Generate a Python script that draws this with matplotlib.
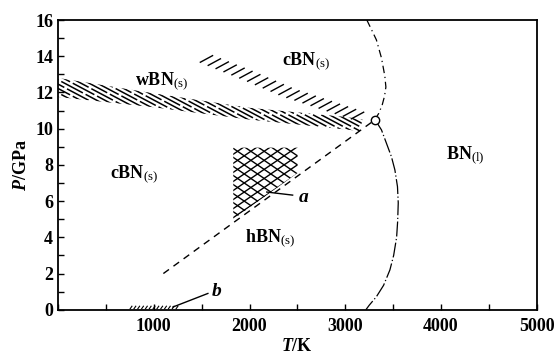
import matplotlib
matplotlib.use("Agg")
import matplotlib.pyplot as plt
import numpy as np
from matplotlib.patches import Polygon
from matplotlib.collections import LineCollection
from matplotlib.ticker import MultipleLocator, FuncFormatter

plt.rcParams['font.family'] = ['Liberation Serif', 'DejaVu Serif']
plt.rcParams['mathtext.fontset'] = 'custom'
plt.rcParams['mathtext.rm'] = 'Liberation Serif'
plt.rcParams['mathtext.it'] = 'Liberation Serif:italic:bold'
plt.rcParams['mathtext.bf'] = 'Liberation Serif:bold'

# wBN / cBN hatched band (upper and lower edges)
band_up_T = [0, 1000, 2000, 3000, 3180]
band_up_P = [12.8, 11.95, 11.15, 10.65, 10.5]
band_lo_T = [0, 1000, 2000, 3050, 3150]
band_lo_P = [11.75, 11.18, 10.5, 9.93, 9.85]

# second (single-stroke) hatched band
ridge_T = [1550, 2000, 2400, 2800, 3200]
ridge_P = [13.85, 12.9, 12.0, 11.3, 10.6]

# hBN / cBN equilibrium line
hbn_T = [1100, 3300]
hbn_P = [2.0, 10.45]

# melting curves
melt_up_T = [3225, 3280, 3325, 3378, 3413, 3424, 3410, 3385, 3350, 3310]
melt_up_P = [16.0, 15.4, 14.9, 13.9, 12.9, 12.3, 11.8, 11.3, 10.85, 10.5]
melt_lo_T = [3310, 3378, 3430, 3482, 3518, 3545, 3553, 3547, 3536, 3505,
             3466, 3400, 3325, 3250, 3215]
melt_lo_P = [10.5, 9.93, 9.19, 8.45, 7.72, 6.8, 5.9, 4.9, 4.0, 3.0,
             2.2, 1.35, 0.72, 0.25, 0.0]

# triple point
triple_T, triple_P = 3310, 10.5

# region a (cross-hatched)
a_T = [1830, 2500, 2500, 1830]
a_P = [8.95, 8.95, 7.55, 5.0]
a_lead_T, a_lead_P = [2180, 2450], [6.5, 6.33]

# region b
b_T = np.arange(750, 1260, 40)
b_lead_T, b_lead_P = [1200, 1565], [0.15, 0.9]

labels = [
    (800, 12.6, 'wBN$_\\mathrm{(s)}$'),
    (2340, 13.7, 'cBN$_\\mathrm{(s)}$'),
    (545, 7.5, 'cBN$_\\mathrm{(s)}$'),
    (1950, 3.95, 'hBN$_\\mathrm{(s)}$'),
    (4050, 8.55, 'BN$_\\mathrm{(l)}$'),
]

fig = plt.figure(figsize=(5.58, 3.54), dpi=100)
ax = fig.add_axes([0.104, 0.125, 0.858, 0.8185])
ax.set_xlim(0, 5000)
ax.set_ylim(0, 16)

# main hatched band
band_poly = np.column_stack([band_up_T + band_lo_T[::-1], band_up_P + band_lo_P[::-1]])
clip = Polygon(band_poly, closed=True, facecolor='none', edgecolor='none')
ax.add_patch(clip)
s = 0.0028
segs = []
for i, c in enumerate(np.arange(11.5, 22.5, 0.24)):
    t0 = -100 - (i % 3) * 60
    segs.append([(t0, c - s * t0), (3400, c - s * 3400)])
lc = LineCollection(segs, colors='black', linewidths=1.1, linestyles=[(0, (16, 2))])
ax.add_collection(lc)
lc.set_clip_path(clip)

# second band of short strokes
tt = np.linspace(ridge_T[0], ridge_T[-1], 400)
pp = np.interp(tt, ridge_T, ridge_P)
sx = (tt - tt[0]) * 0.0958
sy = (pp - pp[0]) * 18.1
dist = np.concatenate([[0], np.cumsum(np.hypot(np.diff(sx), np.diff(sy)))])
segs2 = []
for d in np.arange(0, dist[-1], 8.5):
    t0 = np.interp(d, dist, tt)
    p0 = np.interp(t0, ridge_T, ridge_P)
    segs2.append([(t0 - 70, p0 - 0.2), (t0 + 70, p0 + 0.2)])
ax.add_collection(LineCollection(segs2, colors='black', linewidths=1.0))

# cross-hatched region a
a_poly = Polygon(np.column_stack([a_T, a_P]), closed=True, facecolor='none', edgecolor='none')
ax.add_patch(a_poly)
k = 0.0036
segs3 = []
for c in np.arange(-10, 20, 0.5):
    segs3.append([(1700, c + k * 1700), (2600, c + k * 2600)])
for c in np.arange(0, 25, 0.5):
    segs3.append([(1700, c - k * 1700), (2600, c - k * 2600)])
lc3 = LineCollection(segs3, colors='black', linewidths=1.0)
ax.add_collection(lc3)
lc3.set_clip_path(a_poly)
ax.plot(a_lead_T, a_lead_P, color='black', lw=1.0)
ax.text(2510, 6.2, '$a$', fontsize=14, va='center', ha='left')

# region b
segs4 = [[(t, 0.03), (t + 25, 0.22)] for t in b_T]
ax.add_collection(LineCollection(segs4, colors='black', linewidths=0.8))
ax.plot(b_lead_T, b_lead_P, color='black', lw=1.0)
ax.text(1600, 1.0, '$b$', fontsize=14, va='center', ha='left')

# lines
ax.plot(hbn_T, hbn_P, color='black', lw=1.0, linestyle=(0, (5, 4)))
ax.plot(melt_up_T, melt_up_P, color='black', lw=0.9, linestyle=(0, (6, 3, 1, 3)))
ax.plot(melt_lo_T, melt_lo_P, color='black', lw=0.9, linestyle=(0, (12, 2, 1, 2)))
ax.plot([triple_T], [triple_P], 'o', ms=6, mfc='white', mec='black', mew=1.0, zorder=5)

for t, p, txt in labels:
    ax.text(t, p, txt, fontsize=13, fontweight='bold', ha='left', va='center')

ax.xaxis.set_major_locator(MultipleLocator(1000))
ax.xaxis.set_minor_locator(MultipleLocator(500))
ax.yaxis.set_major_locator(MultipleLocator(2))
ax.yaxis.set_minor_locator(MultipleLocator(1))
ax.xaxis.set_major_formatter(FuncFormatter(lambda v, p: '' if v == 0 else '%d' % v))
ax.tick_params(which='both', direction='in', length=4, width=1.0,
               top=False, right=False, labelsize=13)
ax.tick_params(axis='x', pad=6)
for lab in ax.get_xticklabels() + ax.get_yticklabels():
    lab.set_fontweight('bold')
for sp in ax.spines.values():
    sp.set_linewidth(1.3)

ax.set_xlabel('$T$/K', fontsize=13, fontweight='bold', labelpad=2)
ax.set_ylabel('$P$/GPa', fontsize=13, fontweight='bold', labelpad=4)

fig.savefig('out.png', dpi=100)
